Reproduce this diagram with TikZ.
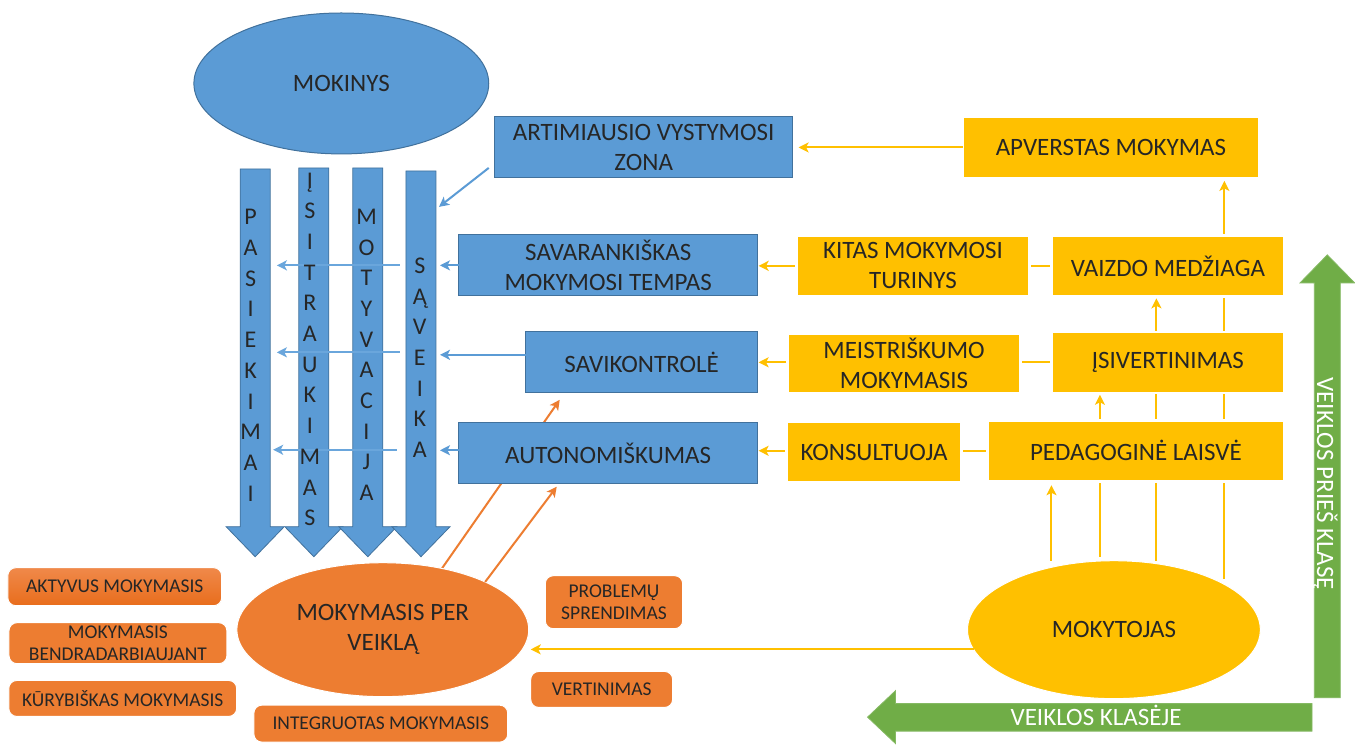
\documentclass[tikz,border=0pt]{standalone}
\usepackage{fontspec}
\setmainfont{Carlito}
\usetikzlibrary{shapes.geometric,arrows.meta,calc}
\pgfdeclarelayer{bg}
\pgfdeclarelayer{lines}
\pgfsetlayers{bg,lines,main}
\definecolor{mblue}{HTML}{5B9BD5}
\definecolor{mblueD}{HTML}{41719C}
\definecolor{mblueL}{HTML}{6AA6DC}
\definecolor{myel}{HTML}{FFC000}
\definecolor{morange}{HTML}{ED7D31}
\definecolor{morangeL}{HTML}{F0894A}
\definecolor{morangeD}{HTML}{E86D1C}
\definecolor{mgreen}{HTML}{70AD47}
\definecolor{mtext}{HTML}{262626}
\newcommand\downarr[1]{\path[bigarrow] (#1.north west) -- (#1.south west) -- ++(-14,0) -- ($(#1.south)+(0,30)$) -- ($(#1.south east)+(14,0)$) -- (#1.south east) -- (#1.north east) -- cycle;}
\tikzset{
  every node/.style={inner sep=0pt, outer sep=0pt, text=mtext},
  bigfont/.style={font=\fontsize{25}{30}\selectfont},
  smallfont/.style={font=\fontsize{19.5}{22.7}\selectfont},
  bluebox/.style={rectangle, fill=mblue, draw=mblueD, line width=1pt, align=center, bigfont},
  yelbox/.style={rectangle, fill=myel, draw=white, line width=2.5pt, align=center, bigfont},
  orbox/.style={rectangle, rounded corners=8pt, fill=morange, draw=white, line width=1pt, align=center, smallfont},
  vtext/.style={align=center, font=\fontsize{24}{30.7}\selectfont},
  shaftbox/.style={rectangle, minimum width=30pt},
  bigarrow/.style={fill=mblue, draw=mblueD, line width=0.8pt},
  barrow/.style={draw=mblue, line width=2pt, -{Stealth[length=10pt,width=10pt,inset=2.5pt]}},
  yarrow/.style={draw=myel, line width=2pt, -{Stealth[length=10pt,width=10pt,inset=2.5pt]}},
  oarrow/.style={draw=morange, line width=2pt, -{Stealth[length=10pt,width=10pt,inset=2.5pt]}},
  greenarrow/.style={fill=mgreen, draw=mgreen!85!white, line width=0.8pt},
}
\begin{document}
\begin{tikzpicture}[x=1pt,y=-1pt]
\begin{pgfonlayer}{bg}
\path[use as bounding box, fill=white] (0,0) rectangle (1355,742);
\end{pgfonlayer}

% ---------- learner ellipse ----------
\node[ellipse, fill=mblue, draw=mblueD, line width=1pt, minimum width=295pt, minimum height=141pt, bigfont] (mokinys) at (341.5,83.5) {MOKINYS};

% ---------- big downward arrows ----------
\node[shaftbox, minimum height=358pt] (sh1) at (255.3,348) {};
\node[shaftbox, minimum height=359pt] (sh2) at (314,347.5) {};
\node[shaftbox, minimum height=359pt] (sh3) at (368,347.5) {};
\node[shaftbox, minimum height=356pt] (sh4) at (421.2,349) {};
\downarr{sh1}
\downarr{sh2}
\downarr{sh3}
\downarr{sh4}

% ---------- blue boxes ----------
\node[bluebox, minimum width=298pt, minimum height=61pt] (art) at (644,147.5) {ARTIMIAUSIO VYSTYMOSI\\ZONA};
\node[bluebox, minimum width=299pt, minimum height=61pt] (savr) at (608.5,265.5) {SAVARANKIŠKAS\\MOKYMOSI TEMPAS};
\node[bluebox, minimum width=232pt, minimum height=61pt] (savk) at (642,362.5) {SAVIKONTROLĖ};
\node[bluebox, minimum width=299pt, minimum height=61pt] (auto) at (608.5,453.5) {AUTONOMIŠKUMAS};

% ---------- yellow boxes ----------
\node[yelbox, minimum width=297pt, minimum height=61pt] (apv) at (1111.5,147.5) {APVERSTAS MOKYMAS};
\node[yelbox, minimum width=233pt, minimum height=61pt] (kitas) at (913.5,266) {KITAS MOKYMOSI\\TURINYS};
\node[yelbox, minimum width=233pt, minimum height=61pt] (vaizdo) at (1168.5,266) {VAIZDO MEDŽIAGA};
\node[yelbox, minimum width=233pt, minimum height=60pt] (meist) at (904.5,363.5) {MEISTRIŠKUMO\\MOKYMASIS};
\node[yelbox, minimum width=233pt, minimum height=61pt] (isiv) at (1168.5,362.5) {ĮSIVERTINIMAS};
\node[yelbox, minimum width=175pt, minimum height=61pt] (kons) at (874.5,452.3) {KONSULTUOJA};
\node[yelbox, minimum width=297pt, minimum height=61pt] (ped) at (1136.5,451) {PEDAGOGINĖ LAISVĖ};

% ---------- ellipses at the bottom ----------
\node[ellipse, fill=morange, draw=white, line width=1pt, minimum width=292pt, minimum height=134pt, bigfont, align=center] (veikla) at (383,630) {MOKYMASIS PER\\VEIKLĄ};
\node[ellipse, fill=myel, draw=white, line width=1pt, minimum width=293pt, minimum height=138pt, bigfont] (mokyt) at (1114.5,630) {MOKYTOJAS};

% ---------- orange labels ----------
\node[orbox, top color=morangeL, bottom color=morangeD, minimum width=214pt, minimum height=38pt] (akt) at (114.8,587) {AKTYVUS MOKYMASIS};
\node[orbox, minimum width=218pt, minimum height=41pt] (bendr) at (118,643.5) {MOKYMASIS\\BENDRADARBIAUJANT};
\node[orbox, minimum width=228pt, minimum height=36pt] (kur) at (122.8,698.8) {KŪRYBIŠKAS MOKYMASIS};
\node[orbox, minimum width=254pt, minimum height=37pt] (integ) at (381,724) {INTEGRUOTAS MOKYMASIS};
\node[orbox, minimum width=137.5pt, minimum height=53pt] (prob) at (614.3,602.5) {PROBLEMŲ\\SPRENDIMAS};
\node[orbox, minimum width=142pt, minimum height=36pt] (vert) at (602,689.8) {VERTINIMAS};

% ---------- connectors passing behind boxes ----------
\begin{pgfonlayer}{lines}
\draw[yarrow, shorten >=1pt] (vaizdo.west) -- (vaizdo.west -| savr.east);
\draw[yarrow, shorten >=1pt] (isiv.west) -- (isiv.west -| savk.east);
\draw[yarrow, shorten >=1pt] (ped.west) -- (ped.west -| auto.east);
\draw[yarrow, shorten >=4pt] ([xshift=-62.5pt]mokyt.north) -- ([xshift=-62.5pt]mokyt.north |- ped.south);
\draw[yarrow, shorten >=2pt] ([xshift=-14pt,yshift=4pt]mokyt.north) -- ([xshift=-14pt]mokyt.north |- isiv.south);
\draw[yarrow, shorten >=2pt] ([xshift=42.5pt]mokyt.north) -- ([xshift=42.5pt]mokyt.north |- vaizdo.south);
\draw[yarrow, shorten >=3pt] ([xshift=110.5pt,yshift=-18pt]mokyt.north) -- ([xshift=110.5pt]mokyt.north |- apv.south);
\draw[oarrow] (veikla.46) -- ([xshift=34pt,yshift=-7pt]savk.south west);
\end{pgfonlayer}

% ---------- other connectors ----------
\draw[yarrow, shorten >=6pt] (apv.west) -- (art.east);
\draw[yarrow, shorten >=2pt] (mokyt.188.6) -- (mokyt.188.6 -| veikla.east);
\draw[oarrow] (veikla.25) -- ([xshift=98pt,yshift=-3pt]auto.south west);

\draw[barrow] ([xshift=-6pt,yshift=10pt]art.south west) -- ($(sh4.north east)+(3,36)$);
\draw[barrow, shorten >=4pt] (savr.west) -- (savr.west -| sh4.east);
\draw[barrow, shorten >=4pt] ([yshift=7.5pt]savk.west) -- ([yshift=7.5pt]savk.west -| sh4.east);
\draw[barrow, shorten >=4pt] ([yshift=3pt]auto.west) -- ([yshift=3pt]auto.west -| sh4.east);

\draw[barrow, draw=mblueL, shorten <=6pt, shorten >=6.7pt] (savr.west -| sh4.west) -- (savr.west -| sh1.east);
\draw[barrow, draw=mblueL, shorten <=6pt, shorten >=6.7pt] ($(savk.west -| sh4.west)+(0,-10)$) -- ($(savk.west -| sh1.east)+(0,-10)$);
\draw[barrow, draw=mblueL, shorten <=9pt, shorten >=3pt] ($(auto.west -| sh4.west)+(0,-3.5)$) -- ($(auto.west -| sh1.east)+(0,-3.5)$);

% ---------- letters in big arrows ----------
\node[vtext] (t1) at (250.7,355.5) {P\\A\\S\\I\\E\\K\\I\\M\\A\\I};
\node[vtext] (t2) at (310,349.5) {Į\\S\\I\\T\\R\\A\\U\\K\\I\\M\\A\\S};
\node[vtext] (t3) at (366.7,355) {M\\O\\T\\Y\\V\\A\\C\\I\\J\\A};
\node[vtext] (t4) at (420,358) {S\\Ą\\V\\E\\I\\K\\A};

% ---------- green arrows ----------
\path[greenarrow] (1315,698) -- (1315,283) -- (1300.7,283) -- (1328,255) -- (1355.3,283) -- (1341,283) -- (1341,698) -- cycle;
\node[rotate=-90, text=white, bigfont] (gup) at (1326,484) {VEIKLOS PRIEŠ KLASĘ};
\path[greenarrow] (1312.7,704) -- (896,704) -- (896,691) -- (868,717.5) -- (896,744) -- (896,731.5) -- (1312.7,731.5) -- cycle;
\node[text=white, bigfont, anchor=base] (gleft) at (1096.7,726) {VEIKLOS KLASĖJE};
\end{tikzpicture}
\end{document}
